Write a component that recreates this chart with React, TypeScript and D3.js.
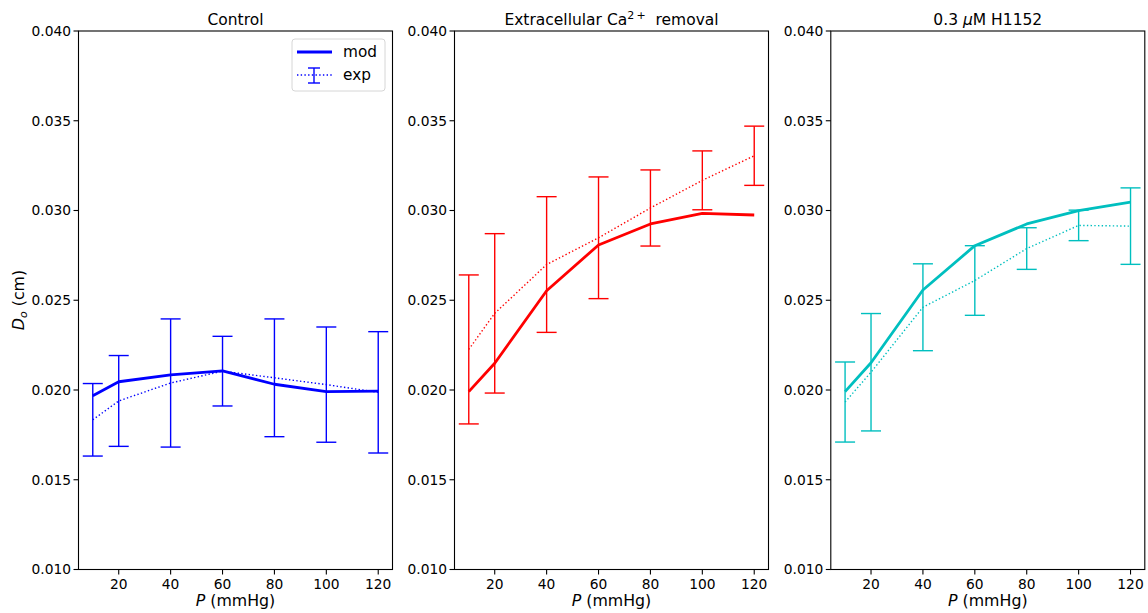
import React from "react";
import * as d3 from "d3";

// Pressure steps (mmHg)
const pressures = [10, 20, 40, 60, 80, 100, 120];

// Control
const controlMod = [0.01968, 0.02046, 0.02084, 0.02106, 0.02032, 0.01991, 0.01994];
const controlExp = [0.01834, 0.01939, 0.02039, 0.02105, 0.02068, 0.0203, 0.01987];
const controlErr = [0.00202, 0.00253, 0.00357, 0.00194, 0.00328, 0.00321, 0.00338];

// Extracellular Ca2+ removal
const caMod = [0.01991, 0.02149, 0.02553, 0.02808, 0.02925, 0.02984, 0.02975];
const caExp = [0.02226, 0.02427, 0.02699, 0.02848, 0.03014, 0.03168, 0.03305];
const caErr = [0.00415, 0.00444, 0.00378, 0.00339, 0.00212, 0.00164, 0.00165];

// 0.3 uM H1152
const hMod = [0.01991, 0.02152, 0.02557, 0.02804, 0.02925, 0.02999, 0.03046];
const hExp = [0.01933, 0.02099, 0.02461, 0.0261, 0.02788, 0.02917, 0.02913];
const hErr = [0.00223, 0.00327, 0.00242, 0.00194, 0.00116, 0.00085, 0.00213];

const xTicks = [20, 40, 60, 80, 100, 120];
const yTicks = [0.01, 0.015, 0.02, 0.025, 0.03, 0.035, 0.04];

const FONT = "DejaVu Sans, sans-serif";
const W = 1148;
const H = 613;
const panelLefts = [78.5, 454.5, 830.8];
const panelW = 314;
const top = 31;
const bottom = 569.5;
const TICK_FS = 13.8;
const LABEL_FS = 15.8;
const TITLE_FS = 15.5;

type Panel = {
  key: string;
  color: string;
  mod: number[];
  exp: number[];
  err: number[];
};

const panels: Panel[] = [
  { key: "control", color: "#0000ff", mod: controlMod, exp: controlExp, err: controlErr },
  { key: "ca", color: "#ff0000", mod: caMod, exp: caExp, err: caErr },
  { key: "h1152", color: "#00bfbf", mod: hMod, exp: hExp, err: hErr },
];

function Title({ i }: { i: number }) {
  if (i === 0) return <>Control</>;
  if (i === 1)
    return (
      <>
        Extracellular Ca
        <tspan dy={-6} fontSize={11}>{"2\u2009+"}</tspan>
        <tspan dy={6}>{"\u00a0\u00a0removal"}</tspan>
      </>
    );
  return (
    <>
      0.3 <tspan fontStyle="italic">μ</tspan>M H1152
    </>
  );
}

function PanelView({ p, i }: { p: Panel; i: number }) {
  const left = panelLefts[i];
  const x = d3.scaleLinear().domain([4.5, 125.5]).range([left, left + panelW]);
  const y = d3.scaleLinear().domain([0.01, 0.04]).range([bottom, top]);
  const line = d3
    .line<number>()
    .x((_, k) => x(pressures[k]))
    .y((v) => y(v));
  const cap = 10;
  return (
    <g>
      {/* experimental mean with error bars */}
      <path d={line(p.exp) || ""} fill="none" stroke={p.color} strokeWidth={1.4} strokeDasharray="1.4,2.3" />
      {pressures.map((pr, k) => {
        const cx = x(pr);
        const y0 = y(p.exp[k] - p.err[k]);
        const y1 = y(p.exp[k] + p.err[k]);
        return (
          <g key={pr} stroke={p.color} strokeWidth={1.4}>
            <line x1={cx} x2={cx} y1={y0} y2={y1} />
            <line x1={cx - cap} x2={cx + cap} y1={y0} y2={y0} />
            <line x1={cx - cap} x2={cx + cap} y1={y1} y2={y1} />
          </g>
        );
      })}
      {/* model curve */}
      <path d={line(p.mod) || ""} fill="none" stroke={p.color} strokeWidth={2.8} strokeLinejoin="round" />

      {/* frame */}
      <rect x={left} y={top} width={panelW} height={bottom - top} fill="none" stroke="#000" strokeWidth={1.1} />

      {/* y axis */}
      {yTicks.map((t) => (
        <g key={t}>
          <line x1={left - 5} x2={left} y1={y(t)} y2={y(t)} stroke="#000" strokeWidth={1.1} />
          <text x={left - 7.5} y={y(t)} dy="0.35em" textAnchor="end" fontSize={TICK_FS} fontFamily={FONT} fill="#000">
            {d3.format(".3f")(t)}
          </text>
        </g>
      ))}

      {/* x axis */}
      {xTicks.map((t) => (
        <g key={t}>
          <line x1={x(t)} x2={x(t)} y1={bottom} y2={bottom + 5} stroke="#000" strokeWidth={1.1} />
          <text x={x(t)} y={bottom + 19} textAnchor="middle" fontSize={TICK_FS} fontFamily={FONT} fill="#000">
            {t}
          </text>
        </g>
      ))}
      <text x={left + panelW / 2} y={606} textAnchor="middle" fontSize={LABEL_FS} fontFamily={FONT} fill="#000">
        <tspan fontStyle="italic">P</tspan> (mmHg)
      </text>

      {/* title */}
      <text x={left + panelW / 2} y={25} textAnchor="middle" fontSize={TITLE_FS} fontFamily={FONT} fill="#000">
        <Title i={i} />
      </text>
    </g>
  );
}

export default function App() {
  const lx = 292;
  const ly = 39;
  const c = panels[0].color;
  return (
    <svg width={W} height={H} style={{ position: "absolute", left: 0, top: 0, background: "#fff" }}>
      <rect width={W} height={H} fill="#fff" />
      {panels.map((p, i) => (
        <PanelView key={p.key} p={p} i={i} />
      ))}

      {/* y label */}
      <text transform="translate(24,300) rotate(-90)" textAnchor="middle" fontSize={LABEL_FS} fontFamily={FONT} fill="#000">
        <tspan fontStyle="italic">D</tspan>
        <tspan fontStyle="italic" fontSize={11} dy={3}>o</tspan>
        <tspan dy={-3}>{"\u00a0(cm)"}</tspan>
      </text>

      {/* legend */}
      <g>
        <rect x={lx} y={ly} width={93} height={52} rx={3} fill="#fff" fillOpacity={0.8} stroke="#d6d6d6" strokeWidth={1} />
        <line x1={lx + 5} x2={lx + 40} y1={ly + 13} y2={ly + 13} stroke={c} strokeWidth={2.8} />
        <text x={lx + 51} y={ly + 13} dy="0.35em" fontSize={15.3} fontFamily={FONT} fill="#000">mod</text>
        <line x1={lx + 5} x2={lx + 40} y1={ly + 36} y2={ly + 36} stroke={c} strokeWidth={1.4} strokeDasharray="1.4,2.3" />
        <g stroke={c} strokeWidth={1.4}>
          <line x1={lx + 22} x2={lx + 22} y1={ly + 29} y2={ly + 44} />
          <line x1={lx + 16} x2={lx + 28} y1={ly + 29} y2={ly + 29} />
          <line x1={lx + 16} x2={lx + 28} y1={ly + 44} y2={ly + 44} />
        </g>
        <text x={lx + 51} y={ly + 36} dy="0.35em" fontSize={15.3} fontFamily={FONT} fill="#000">exp</text>
      </g>
    </svg>
  );
}
